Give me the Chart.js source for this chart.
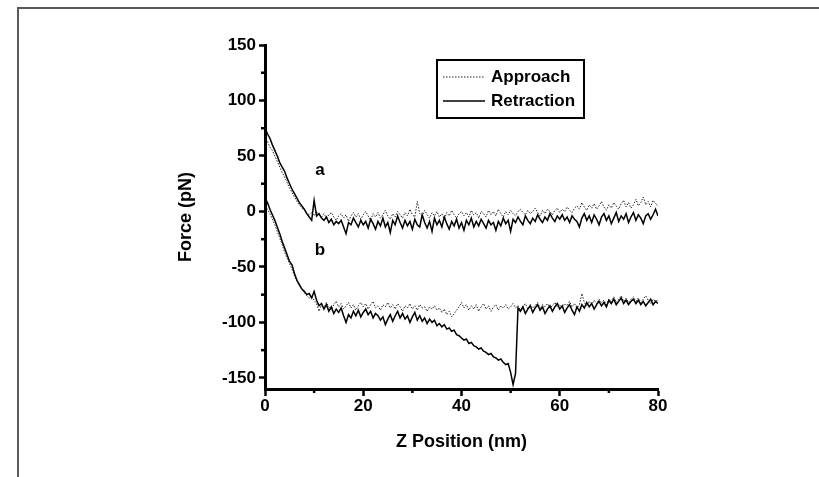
<!DOCTYPE html>
<html>
<head>
<meta charset="utf-8">
<script src="https://cdn.jsdelivr.net/npm/chart.js@4.4.1/dist/chart.umd.min.js"></script>
<style>
  body { margin: 0; background: #fff; }
  #frame { position: absolute; left: 17px; top: 7px; width: 810px; height: 480px;
           border-left: 2px solid #5a5a5a; border-top: 2px solid #5a5a5a; }
  #chart { position: absolute; left: 0; top: 0; }
</style>
</head>
<body>
<div id="frame"></div>
<canvas id="chart" width="819" height="477"></canvas>
<script>
// Z position (nm), sampled every 0.5 nm
const zPos = [
  0, 0.5, 1, 1.5, 2, 2.5, 3, 3.5, 4, 4.5,
  5, 5.5, 6, 6.5, 7, 7.5, 8, 8.5, 9, 9.5,
  10, 10.5, 11, 11.5, 12, 12.5, 13, 13.5, 14, 14.5,
  15, 15.5, 16, 16.5, 17, 17.5, 18, 18.5, 19, 19.5,
  20, 20.5, 21, 21.5, 22, 22.5, 23, 23.5, 24, 24.5,
  25, 25.5, 26, 26.5, 27, 27.5, 28, 28.5, 29, 29.5,
  30, 30.5, 31, 31.5, 32, 32.5, 33, 33.5, 34, 34.5,
  35, 35.5, 36, 36.5, 37, 37.5, 38, 38.5, 39, 39.5,
  40, 40.5, 41, 41.5, 42, 42.5, 43, 43.5, 44, 44.5,
  45, 45.5, 46, 46.5, 47, 47.5, 48, 48.5, 49, 49.5,
  50, 50.5, 51, 51.5, 52, 52.5, 53, 53.5, 54, 54.5,
  55, 55.5, 56, 56.5, 57, 57.5, 58, 58.5, 59, 59.5,
  60, 60.5, 61, 61.5, 62, 62.5, 63, 63.5, 64, 64.5,
  65, 65.5, 66, 66.5, 67, 67.5, 68, 68.5, 69, 69.5,
  70, 70.5, 71, 71.5, 72, 72.5, 73, 73.5, 74, 74.5,
  75, 75.5, 76, 76.5, 77, 77.5, 78, 78.5, 79, 79.5,
  80
];

// curve a (no binding), force in pN
const approachA = [
  68, 63, 58, 55, 50, 45, 40, 35, 31, 26,
  21, 17, 13, 9, 6, 3, 1, -1, -3, -1,
  -4, 0, -3, -5, -2, -6, -3, -1, -5, -8,
  -4, -2, -6, -3, -9, -4, -1, -5, -2, -7,
  -3, 0, -4, -8, -2, -5, -1, -6, -3, 1,
  -4, -7, -2, -5, 0, -3, -6, -1, -4, 2,
  -3, -5, 9, -2, -4, 1, -3, -6, -1, -4,
  0, -5, -2, -7, -1, -4, 1, -3, -6, -2,
  0, -4, -1, -5, 1, -3, -1, -6, 0, -2,
  -5, 1, -3, 0, -4, 2, -2, -5, 0, -3,
  1, -2, -4, 0, 2, -1, -3, 1, -2, 0,
  3, -1, -4, 1, -2, 2, 0, -3, 1, 3,
  -1, 2, 0, 4, 1, -1, 3, 5, 2, 8,
  4, 1, 6, 3, 7, 2, 5, 9, 4, 1,
  6, 3, 8, 5, 2, 7, 10, 4, 8, 3,
  6, 11, 5, 8, 13, 6, 9, 4, 10, 7,
  5
];
const retractA = [
  75, 70, 66, 60, 55, 50, 44, 40, 36, 30,
  25, 20, 16, 12, 8, 5, 2, -2, -5, -8,
  10, -4, -2, -6, -8, -5, -10, -7, -12, -9,
  -11, -8, -14, -20, -10, -12, -6, -10, -14, -8,
  -12, -9, -15, -7, -11, -16, -9, -13, -6, -14,
  -10, -19, -8, -12, -4, -10, -15, -8, -13, -9,
  -16, -7, -12, -14, -3, -10, -15, -9, -18, -6,
  -12, -8, -14, -5, -11, -16, -9, -13, -7, -15,
  -10, -17, -8, -12, -6, -14, -9, -13, -7, -11,
  -15, -8, -12, -10, -17, -9, -13, -6, -11, -8,
  -18, -7, -10, -5, -9, -12, -4, -8, -11, -6,
  -9, -3, -7, -10, -5, -8, -2, -6, -9, -4,
  -7, -3, -8, -5, -10, -4, -7, -9, -14, -6,
  -2, -8, -4, -10, -3, -7, -12, -5, -2, -8,
  -4, -11, -6, -1, -9, -4, -7, -2, -10, -5,
  -1, -8, -3, -6, -11, -4, -2, -7, -3, 2,
  -4
];

// curve b (with rupture event near 51 nm)
const approachB = [
  5, 2, -2, -7, -12, -18, -24, -30, -37, -42,
  -47, -52, -58, -63, -67, -70, -73, -76, -78, -77,
  -80, -83, -90, -84, -87, -82, -86, -89, -84, -81,
  -86, -83, -88, -85, -82, -87, -84, -89, -85, -82,
  -86, -83, -88, -84, -81, -87, -85, -89, -84, -86,
  -82, -87, -84, -88, -83, -86, -90, -85, -87, -83,
  -88, -85, -89, -84, -87, -86, -90, -86, -88, -85,
  -89, -87, -91, -88, -93, -90, -95, -92, -89, -86,
  -82, -87, -84, -89, -85, -88, -84, -90, -86, -83,
  -88, -85, -90, -86, -84, -89, -85, -87, -84, -88,
  -86, -83, -87, -85, -89, -86, -83, -88, -84, -87,
  -85, -82, -88, -84, -86, -83, -87, -85, -82, -86,
  -84, -87, -83, -85, -81, -86, -83, -87, -84, -74,
  -82, -85, -81, -84, -80, -83, -79, -82, -80, -84,
  -79, -81, -77, -82, -79, -76, -81, -78, -82, -79,
  -77, -81, -78, -82, -79, -76, -80, -83, -79, -81,
  -80
];
const retractB = [
  12, 8, 2, -3, -8, -14, -20, -27, -33, -39,
  -45, -48, -56, -62, -66, -70, -72, -75, -74, -78,
  -72, -80, -85, -83, -88, -84, -90, -86, -92, -88,
  -91, -87, -94, -100, -93, -96, -90, -94, -89, -95,
  -91, -88, -93, -90, -96, -92, -94, -98, -95, -102,
  -97, -93, -99, -94, -90, -96, -92, -97, -94, -100,
  -95, -91, -98, -94, -99, -96, -101, -97, -100, -98,
  -103, -101, -104, -102, -106, -105, -108, -107, -111, -112,
  -114, -116, -115, -119, -118, -121, -122, -124, -123, -126,
  -127, -129, -128, -131, -132, -134, -133, -136, -138, -137,
  -145, -156, -146, -87, -90, -86, -92, -88, -85, -91,
  -87, -84, -89, -86, -92, -88, -85, -90, -86, -83,
  -88, -85, -91, -87, -84, -89, -93, -86, -90, -84,
  -87, -82, -86, -83, -88, -84, -81, -85, -82, -86,
  -80, -83, -79, -84, -81, -78, -83, -80, -84, -81,
  -79, -83, -80, -84, -81, -85, -82, -79, -84, -81,
  -83
];

const xTicks = [0, 20, 40, 60, 80];
const xMinor = [10, 30, 50, 70];
const yTicks = [-150, -100, -50, 0, 50, 100, 150];
const yMinor = [-125, -75, -25, 25, 75, 125];

const curveNames = ['a', 'b'];
const curveNameZ = [11.2, 11.2];
const curveNameF = [37, -35];

const FONT = "'Liberation Sans', Arial, sans-serif";

function toPoints(arr) {
  return zPos.map((z, i) => ({ x: z, y: arr[i] }));
}

const approachStyle = { borderColor: '#222', borderWidth: 1, borderDash: [1.5, 1.5] };
const retractStyle = { borderColor: '#000', borderWidth: 1.5, borderDash: [] };

// minor ticks, curve letters and the boxed legend
const extras = {
  id: 'extras',
  afterDraw(chart) {
    const ctx = chart.ctx;
    const xs = chart.scales.x, ys = chart.scales.y;
    const area = chart.chartArea;
    ctx.save();
    ctx.strokeStyle = '#000';
    ctx.lineWidth = 2.5;
    yMinor.forEach(v => {
      const py = ys.getPixelForValue(v);
      ctx.beginPath();
      ctx.moveTo(area.left - 4, py);
      ctx.lineTo(area.left, py);
      ctx.stroke();
    });
    xMinor.forEach(v => {
      const px = xs.getPixelForValue(v);
      ctx.beginPath();
      ctx.moveTo(px, area.bottom);
      ctx.lineTo(px, area.bottom + 4);
      ctx.stroke();
    });

    ctx.fillStyle = '#000';
    ctx.font = 'bold 17px ' + FONT;
    ctx.textAlign = 'center';
    ctx.textBaseline = 'middle';
    curveNames.forEach((t, i) => {
      ctx.fillText(t, xs.getPixelForValue(curveNameZ[i]), ys.getPixelForValue(curveNameF[i]));
    });

    // legend box
    const bx = 437, by = 60, bw = 147, bh = 58;
    ctx.lineWidth = 2;
    ctx.strokeRect(bx, by, bw, bh);
    const rows = [
      { label: 'Approach', style: approachStyle, y: by + 17 },
      { label: 'Retraction', style: retractStyle, y: by + 41 }
    ];
    rows.forEach(r => {
      ctx.beginPath();
      ctx.setLineDash(r.style.borderDash);
      ctx.lineWidth = r.style.borderWidth;
      ctx.strokeStyle = r.style.borderColor;
      ctx.moveTo(bx + 6, r.y);
      ctx.lineTo(bx + 48, r.y);
      ctx.stroke();
      ctx.setLineDash([]);
      ctx.textAlign = 'left';
      ctx.fillText(r.label, bx + 54, r.y);
    });
    ctx.restore();
  }
};

const ctx = document.getElementById('chart').getContext('2d');
new Chart(ctx, {
  type: 'line',
  data: {
    datasets: [
      { label: 'Retraction', data: toPoints(retractA), ...retractStyle },
      { label: 'Approach', data: toPoints(approachA), ...approachStyle },
      { label: 'Retraction', data: toPoints(retractB), ...retractStyle },
      { label: 'Approach', data: toPoints(approachB), ...approachStyle }
    ]
  },
  options: {
    responsive: false,
    animation: false,
    elements: { point: { radius: 0 }, line: { tension: 0 } },
    layout: { padding: { left: 175, top: 45, right: 161, bottom: 24 } },
    plugins: { legend: { display: false }, tooltip: { enabled: false } },
    scales: {
      x: {
        type: 'linear',
        min: 0,
        max: 80,
        afterBuildTicks(scale) { scale.ticks = xTicks.map(v => ({ value: v })); },
        afterFit(scale) { scale.height = 64; },
        grid: { display: true, drawOnChartArea: false, drawTicks: true, tickLength: 7,
                tickWidth: 2.5, tickColor: '#000' },
        border: { display: true, width: 3, color: '#000' },
        ticks: { color: '#000', padding: 0, maxRotation: 0,
                 font: { family: FONT, size: 17, weight: 'bold' } },
        title: { display: true, text: 'Z Position (nm)', color: '#000',
                 padding: { top: 0, bottom: 0 },
                 font: { family: FONT, size: 18, weight: 'bold' } }
      },
      y: {
        type: 'linear',
        min: -160,
        max: 150,
        afterBuildTicks(scale) { scale.ticks = yTicks.map(v => ({ value: v })); },
        afterFit(scale) { scale.width = 90; },
        grid: { display: true, drawOnChartArea: false, drawTicks: true, tickLength: 6,
                tickWidth: 2.5, tickColor: '#000' },
        border: { display: true, width: 3, color: '#000' },
        ticks: { color: '#000', padding: 3,
                 font: { family: FONT, size: 17, weight: 'bold' } },
        title: { display: true, text: 'Force (pN)', color: '#000',
                 padding: { top: 0, bottom: 0 },
                 font: { family: FONT, size: 18, weight: 'bold' } }
      }
    }
  },
  plugins: [extras]
});
</script>
</body>
</html>
